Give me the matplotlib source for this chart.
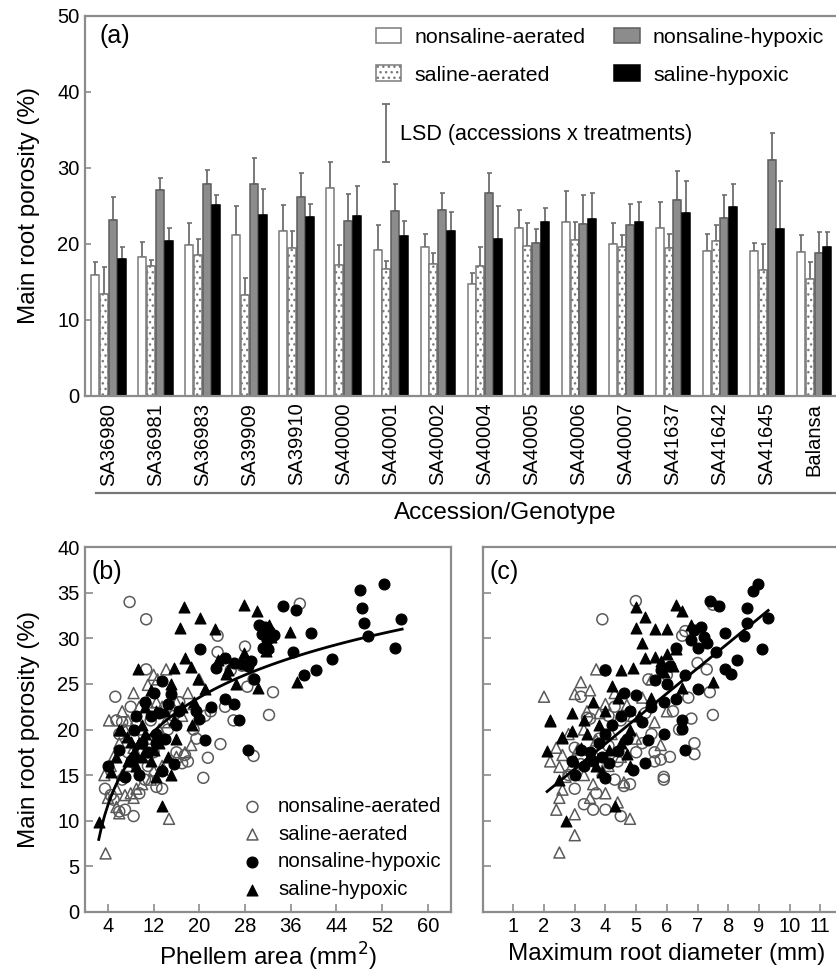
import matplotlib.pyplot as plt
import numpy as np
from matplotlib.patches import Patch
from matplotlib.lines import Line2D

plt.rcParams['font.family'] = ['Liberation Sans', 'DejaVu Sans']
plt.rcParams['hatch.color'] = '#8a8a8a'
plt.rcParams['hatch.linewidth'] = 1.0

# ---------------- data ----------------
accessions = ['SA36980', 'SA36981', 'SA36983', 'SA39909', 'SA39910', 'SA40000',
              'SA40001', 'SA40002', 'SA40004', 'SA40005', 'SA40006', 'SA40007',
              'SA41637', 'SA41642', 'SA41645', 'Balansa']
treatments = ['nonsaline-aerated', 'saline-aerated', 'nonsaline-hypoxic', 'saline-hypoxic']

na_mean = [15.9, 18.3, 19.8, 21.2, 21.7, 27.3, 19.2, 19.5, 14.7, 22.0, 22.8, 19.9, 22.0, 19.1, 19.1, 18.9]
sa_mean = [13.4, 17.0, 18.5, 13.2, 19.4, 17.2, 16.7, 17.3, 17.1, 19.7, 20.5, 19.5, 19.4, 20.3, 16.5, 15.3]
nh_mean = [23.1, 27.1, 27.9, 27.9, 26.1, 23.0, 24.3, 24.4, 26.6, 20.1, 22.6, 22.4, 25.8, 23.4, 31.0, 18.8]
sh_mean = [18.0, 20.4, 25.1, 23.8, 23.5, 23.6, 21.0, 21.7, 20.6, 22.9, 23.2, 22.8, 24.0, 24.8, 21.9, 19.5]

na_se = [1.7, 1.9, 2.9, 3.7, 3.4, 3.4, 3.2, 1.8, 1.5, 2.4, 4.1, 2.8, 3.5, 2.2, 1.0, 2.2]
sa_se = [3.5, 0.9, 2.1, 2.3, 2.3, 2.6, 1.0, 1.5, 2.4, 3.0, 2.3, 1.6, 1.9, 2.1, 3.4, 2.3]
nh_se = [3.1, 1.5, 1.8, 3.4, 3.2, 3.5, 3.5, 2.2, 2.7, 1.8, 3.8, 2.8, 3.8, 3.0, 3.6, 2.7]
sh_se = [1.6, 1.6, 1.3, 3.4, 1.7, 4.0, 2.0, 2.4, 4.4, 1.8, 3.4, 2.7, 4.2, 3.0, 6.3, 2.1]

lsd_value = 7.7
lsd_center = 34.55

# panel (b): phellem area (mm2) vs porosity (%)
na_area = [7.8, 10.7, 10.7, 5.3, 23.2, 23.2, 28.0, 28.4, 32.9, 32.2, 23.7, 21.5, 20.7, 29.5, 37.6,
           27.5, 5.5, 6.0, 7.0, 6.0, 5.0, 8.5, 12.5, 13.5, 16.0, 17.0, 18.0, 17.5, 19.5, 22.0,
           24.5, 25.5, 29.5, 19.0, 21.0, 9.0, 8.5, 7.5, 6.5, 4.5, 3.5, 9.5, 10.5, 11.0, 12.0,
           13.5, 14.5, 15.5, 11.5, 8.0, 6.5, 26.0, 16.5]
na_por_b = [34.0, 32.1, 26.6, 23.6, 30.3, 28.5, 29.1, 24.7, 24.1, 21.6, 18.4, 16.9, 14.7, 17.1, 33.8,
            27.0, 21.0, 19.5, 11.2, 11.0, 12.3, 10.5, 13.7, 13.5, 17.5, 16.3, 16.5, 17.2, 19.0, 22.0,
            22.5, 26.5, 25.5, 20.0, 21.5, 20.5, 19.0, 17.5, 14.5, 12.8, 13.5, 13.0, 14.5, 16.0, 17.5,
            19.0, 20.0, 21.5, 21.0, 22.5, 20.8, 21.0, 23.0]

sa_area = [3.6, 14.7, 18.6, 3.4, 11.0, 12.7, 14.2, 8.5, 20.0, 5.5, 6.0, 7.0, 8.0, 8.5, 9.0,
           10.0, 11.5, 12.0, 6.5, 4.5, 5.0, 6.0, 7.0, 7.5, 4.2, 6.5, 9.5, 11.0, 12.5, 13.5,
           16.0, 17.0, 19.0, 15.5, 10.0, 8.5, 9.0, 10.5, 13.0, 14.0, 17.5, 16.0, 13.5, 11.0,
           7.5, 5.5, 4.0, 18.0, 12.0]
sa_por_b = [6.4, 10.2, 18.3, 15.0, 24.9, 25.5, 26.6, 24.0, 25.5, 11.5, 10.8, 12.8, 13.0, 12.5, 13.5,
            14.0, 14.5, 15.5, 15.0, 16.0, 17.0, 18.5, 20.0, 21.0, 21.0, 22.0, 22.5, 23.0, 23.0, 22.5,
            23.0, 21.5, 22.8, 22.0, 20.0, 18.0, 17.0, 17.5, 20.0, 20.8, 17.5, 17.0, 16.0, 19.0,
            16.0, 13.5, 12.5, 24.0, 26.0]

nh_area = [52.3, 48.2, 48.4, 48.9, 49.6, 55.3, 54.3, 43.3, 40.5, 38.3, 36.4, 39.6, 34.6, 37.0, 33.0,
           31.5, 31.0, 31.8, 32.2, 30.5, 31.2, 32.0, 27.5, 28.5, 29.0, 29.5, 26.0, 24.5, 23.0, 20.1,
           24.5, 26.0, 27.0, 28.5, 21.0, 20.0, 19.5, 16.5, 15.0, 13.5, 14.5, 12.0, 10.5, 11.5, 13.0,
           9.0, 8.5, 12.5, 14.0, 10.0, 11.0, 15.5, 13.5, 9.5, 8.0, 6.0, 4.0, 7.0, 8.5, 12.5, 16.0, 22.0]
nh_por_b = [36.0, 35.3, 33.3, 31.7, 30.3, 32.1, 28.9, 27.7, 26.5, 26.0, 28.5, 30.6, 33.6, 33.1, 30.4,
            31.2, 30.5, 29.8, 30.8, 31.5, 29.0, 28.8, 27.2, 27.0, 27.5, 25.5, 27.3, 27.8, 26.8, 28.8,
            23.3, 22.8, 21.0, 17.7, 18.8, 21.2, 22.0, 22.0, 23.9, 25.3, 22.8, 24.0, 23.0, 21.5, 21.8,
            21.5, 20.0, 19.5, 19.0, 18.5, 17.5, 16.2, 15.5, 15.0, 16.5, 17.8, 16.0, 14.8, 17.0, 18.5, 20.5, 22.5]

sh_area = [17.4, 20.1, 16.7, 22.8, 27.8, 30.1, 35.8, 37.1, 9.2, 15.5, 17.5, 18.5, 23.2, 24.7, 27.8,
           30.2, 32.2, 32.6, 32.0, 31.6, 19.7, 11.6, 6.3, 18.8, 2.4, 13.4, 6.0, 7.4, 8.0, 9.5,
           10.5, 10.0, 11.5, 12.0, 13.0, 14.5, 15.0, 13.5, 12.5, 9.0, 5.5, 4.5, 7.5, 8.5, 10.0,
           14.0, 15.5, 17.0, 19.0, 21.0, 12.5, 10.5, 16.0, 20.0, 25.0, 26.5, 15.0]
sh_por_b = [33.5, 32.2, 31.1, 31.0, 33.7, 33.0, 30.7, 25.2, 26.6, 26.7, 27.8, 26.9, 27.6, 26.1, 28.4,
            24.6, 31.5, 30.2, 29.2, 28.6, 25.5, 24.3, 20.0, 20.5, 9.9, 11.6, 20.0, 19.2, 18.6, 18.5,
            19.5, 17.0, 16.5, 17.8, 18.5, 17.0, 15.0, 15.7, 14.8, 16.0, 17.0, 15.3, 16.5, 17.5, 20.5,
            22.0, 21.0, 22.5, 23.0, 24.5, 22.0, 22.5, 19.0, 21.5, 26.5, 25.0, 25.0]

# panel (c): maximum root diameter (mm) vs porosity (%)
na_diam = [4.99, 3.9, 6.5, 7.5, 7.3, 7.4, 7.5, 6.9, 6.9, 5.9, 3.2, 3.4, 6.8, 6.1, 5.6,
           3.6, 4.0, 4.5, 3.3, 5.9, 5.6, 5.8, 4.6, 4.8, 4.3, 3.0, 3.7, 2.8, 3.2, 3.5,
           4.1, 4.5, 5.2, 5.5, 6.2, 6.0, 6.7, 4.0, 3.8, 3.0, 4.4, 5.0, 4.1, 5.3, 6.4,
           7.0, 6.6, 5.4, 4.3, 3.6]
na_por_c = [34.1, 32.1, 30.3, 33.7, 26.6, 24.1, 21.6, 18.5, 17.3, 14.8, 23.6, 21.3, 21.2, 17.0, 16.5,
            11.2, 11.2, 10.5, 11.8, 14.5, 17.5, 16.7, 13.8, 14.0, 14.5, 13.5, 13.0, 15.0, 16.2, 21.2,
            21.5, 21.0, 18.5, 19.5, 22.0, 26.0, 23.5, 26.5, 19.0, 18.0, 16.5, 17.5, 18.2, 21.8, 20.0,
            27.3, 30.8, 25.5, 22.5, 17.0]

sa_diam = [2.5, 3.0, 2.4, 3.0, 4.8, 2.5, 2.6, 5.8, 2.6, 2.5, 3.7, 3.2, 3.0, 2.0, 3.5,
           4.0, 4.3, 5.5, 3.3, 3.8, 2.8, 2.4, 2.9, 3.3, 3.6, 4.0, 4.4, 3.9, 4.5, 4.6,
           3.1, 4.2, 5.0, 4.9, 2.7, 3.5, 4.7, 5.2, 3.4, 2.2, 6.0, 4.1, 3.7, 5.6]
sa_por_c = [6.5, 8.4, 11.2, 10.7, 10.2, 12.5, 13.4, 18.3, 17.2, 15.9, 26.6, 25.2, 23.9, 23.6, 24.3,
            22.8, 24.0, 25.5, 20.0, 21.8, 19.5, 18.0, 16.0, 15.0, 14.0, 13.0, 12.0, 15.5, 17.0, 14.2,
            17.8, 19.5, 19.0, 21.5, 14.8, 12.5, 22.7, 23.5, 22.0, 16.5, 22.0, 16.0, 18.8, 20.8]

nh_diam = [8.98, 8.8, 8.6, 9.3, 7.7, 7.4, 8.6, 8.5, 9.1, 8.3, 7.9, 8.1, 7.9, 7.6, 7.2,
           6.9, 7.1, 7.3, 6.8, 7.0, 6.3, 5.6, 5.0, 6.3, 6.5, 6.5, 6.6, 5.3, 5.4, 4.9,
           4.0, 5.8, 6.0, 5.5, 4.8, 4.5, 4.2, 4.0, 3.8, 3.5, 3.6, 3.3, 3.9, 4.1, 4.4,
           4.7, 5.2, 5.9, 6.1, 3.2, 2.9, 4.0, 5.9, 4.6, 7.0, 6.6, 3.0]
nh_por_c = [36.0, 35.2, 33.3, 32.2, 33.6, 34.1, 31.7, 30.3, 28.8, 27.6, 26.6, 26.1, 30.6, 28.5, 30.2,
            30.9, 31.2, 29.5, 29.8, 29.0, 29.0, 25.4, 23.8, 23.3, 21.1, 20.1, 17.8, 16.3, 18.9, 15.6,
            26.5, 26.5, 25.0, 22.5, 22.0, 21.5, 20.5, 19.5, 18.5, 17.5, 16.5, 16.0, 17.0, 16.3, 17.6,
            19.0, 20.8, 23.0, 27.0, 17.8, 16.5, 14.7, 19.5, 24.0, 24.5, 26.0, 15.0]

sh_diam = [4.98, 6.3, 6.5, 5.3, 5.0, 5.6, 2.2, 2.6, 2.1, 2.9, 4.9, 5.3, 5.6, 7.5, 6.5,
           2.7, 4.3, 2.6, 2.2, 5.8, 6.0, 6.2, 5.9, 4.4, 4.0, 3.8, 3.4, 3.2, 3.5, 3.0,
           3.7, 4.1, 4.5, 4.8, 5.1, 4.2, 3.6, 2.9, 3.3, 4.7, 4.8, 3.9, 5.5, 6.0, 6.8,
           5.2, 4.5, 6.3, 2.5]
sh_por_c = [33.5, 33.7, 33.0, 32.4, 31.1, 31.0, 21.1, 19.2, 17.6, 21.8, 26.8, 27.8, 28.0, 25.2, 24.6,
            10.0, 11.6, 19.1, 20.9, 27.5, 28.3, 27.0, 26.3, 23.5, 22.0, 20.5, 19.5, 18.0, 17.2, 16.5,
            16.0, 17.8, 18.5, 20.0, 21.5, 24.8, 23.0, 19.8, 21.0, 17.3, 16.0, 15.3, 23.5, 31.0, 31.5,
            29.5, 26.5, 28.8, 14.5]

# fitted trend lines
fit_b_a, fit_b_b = 1.5, 7.35     # porosity = a + b*ln(area)
fit_b_range = (2.4, 55.5)
fit_c_a, fit_c_b = 7.4, 2.76     # porosity = a + b*diameter
fit_c_range = (2.1, 9.3)

# ---------------- style ----------------
spine_col = '#8c8c8c'
edge_col = '#7a7a7a'
err_col = '#6e6e6e'
grey_fill = '#8c8c8c'


def style_axes(ax, ticklen):
    for s in ax.spines.values():
        s.set_color(spine_col)
        s.set_linewidth(1.6)
    ax.tick_params(direction='in', length=ticklen, width=1.2, color=spine_col,
                   labelsize=14.5, pad=4)


fig = plt.figure(figsize=(8.36, 9.77), dpi=100)

# ---------------- panel (a) ----------------
ax = fig.add_axes([0.1017, 0.595, 0.9003, 0.389])
style_axes(ax, 4)
x = np.arange(len(accessions))
width = 0.17
offs = [-0.282, -0.094, 0.094, 0.282]
means = [na_mean, sa_mean, nh_mean, sh_mean]
ses = [na_se, sa_se, nh_se, sh_se]
faces = ['white', 'white', grey_fill, 'black']
edges = [edge_col, edge_col, '#5e5e5e', 'black']
hatches = [None, '...', None, None]

for k in range(4):
    ax.bar(x + offs[k], means[k], width, color=faces[k], edgecolor=edges[k],
           hatch=hatches[k], linewidth=1.1, zorder=2)
    ax.errorbar(x + offs[k], means[k], yerr=[np.zeros(len(x)), ses[k]], fmt='none',
                ecolor=err_col, elinewidth=1.3, capsize=1.8, capthick=1.2, zorder=1)

ax.errorbar([5.9], [lsd_center], yerr=[lsd_value / 2], fmt='none', ecolor=err_col,
            elinewidth=1.3, capsize=3, capthick=1.3)
ax.text(6.2, 34.4, 'LSD (accessions x treatments)', fontsize=15.5, va='center')

ax.set_xlim(-0.5, 15.5)
ax.set_ylim(0, 50)
ax.set_yticks(range(0, 51, 10))
ax.set_xticks(x)
ax.set_xticklabels(accessions, rotation=90)
ax.tick_params(axis='x', length=0, pad=5)
ax.set_ylabel('Main root porosity (%)', fontsize=17.5, labelpad=12)
ax.text(0.019, 0.947, '(a)', transform=ax.transAxes, fontsize=18, va='center')

handles = [Patch(facecolor=faces[k], edgecolor=edges[k], hatch=hatches[k], linewidth=1.1)
           for k in range(4)]
ax.legend(handles, treatments, ncol=2, loc='upper left', bbox_to_anchor=(0.386, 0.968),
          frameon=False, fontsize=15.4, handlelength=1.21, handleheight=0.75,
          handletextpad=0.6, columnspacing=1.35, labelspacing=0.85, borderpad=0,
          borderaxespad=0)

fig.add_artist(Line2D([0.1145, 1.0], [0.4957, 0.4957], transform=fig.transFigure,
                      color='#777777', lw=1.6))
fig.text(0.604, 0.475, 'Accession/Genotype', ha='center', va='center', fontsize=17.5)

# ---------------- panels (b) and (c) ----------------
ax_b = fig.add_axes([0.1017, 0.0668, 0.4374, 0.373])
ax_c = fig.add_axes([0.5773, 0.0668, 0.4407, 0.373])

mk = dict(s=62, zorder=3)
open_kw = dict(facecolors='none', edgecolors='#5a5a5a', linewidths=1.1)
fill_kw = dict(facecolors='black', edgecolors='black', linewidths=0.8)

for a, xs in ((ax_b, (na_area, sa_area, nh_area, sh_area)),
              (ax_c, (na_diam, sa_diam, nh_diam, sh_diam))):
    ys = (na_por_b, sa_por_b, nh_por_b, sh_por_b) if a is ax_b else \
         (na_por_c, sa_por_c, nh_por_c, sh_por_c)
    a.scatter(xs[0], ys[0], marker='o', label=treatments[0], **open_kw, **mk)
    a.scatter(xs[1], ys[1], marker='^', label=treatments[1], **open_kw, **mk)
    a.scatter(xs[2], ys[2], marker='o', label=treatments[2], **fill_kw, **mk)
    a.scatter(xs[3], ys[3], marker='^', label=treatments[3], **fill_kw, **mk)
    style_axes(a, 6)
    a.set_ylim(0, 40)
    a.set_yticks(range(0, 41, 5))

xb = np.linspace(*fit_b_range, 100)
ax_b.plot(xb, fit_b_a + fit_b_b * np.log(xb), color='black', lw=2.0, zorder=4)
xc = np.linspace(*fit_c_range, 50)
ax_c.plot(xc, fit_c_a + fit_c_b * xc, color='black', lw=2.0, zorder=4)

ax_b.set_xlim(0, 64)
ax_b.set_xticks(range(4, 61, 8))
ax_b.set_xlabel('Phellem area (mm$^2$)', fontsize=17.5, labelpad=3)
ax_b.set_ylabel('Main root porosity (%)', fontsize=17.5, labelpad=12)
ax_b.text(0.019, 0.932, '(b)', transform=ax_b.transAxes, fontsize=18, va='center')
ax_b.legend(loc='lower left', bbox_to_anchor=(0.43, 0.035), frameon=False, fontsize=14.7,
            handlelength=1.0, handletextpad=0.75, labelspacing=0.42, borderpad=0,
            borderaxespad=0, scatterpoints=1)

ax_c.set_xlim(0, 12)
ax_c.set_xticks(range(1, 12))
ax_c.tick_params(labelleft=False)
ax_c.set_xlabel('Maximum root diameter (mm)', fontsize=17.5, labelpad=5)
ax_c.text(0.02, 0.932, '(c)', transform=ax_c.transAxes, fontsize=18, va='center')

fig.savefig('out.png', dpi=100)
